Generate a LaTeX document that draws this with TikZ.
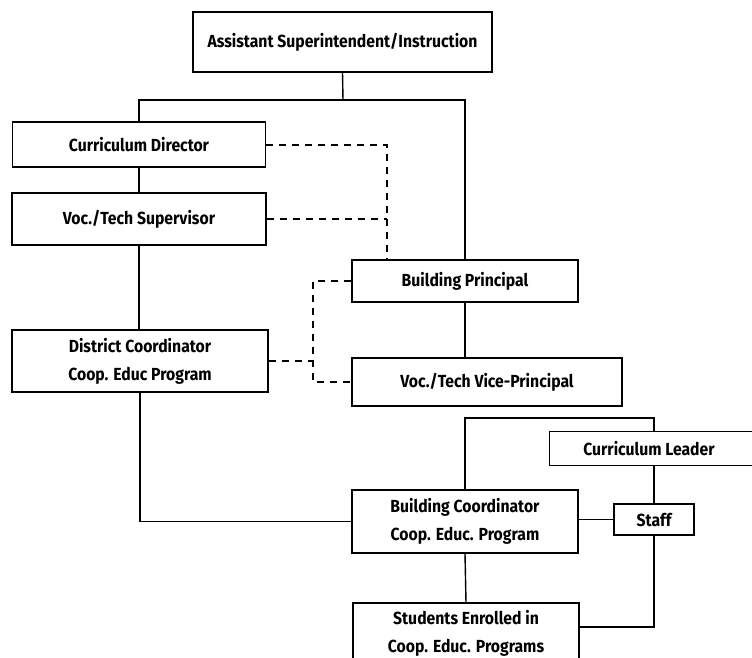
\documentclass[tikz,border=0pt]{standalone}
\usepackage{fontspec}
\newfontfamily\boxfont[FakeStretch=0.9]{Fira Sans}
\begin{document}
\begin{tikzpicture}[x=1pt,y=-1pt,
  box/.style={draw, line width=1.4pt, rectangle, inner sep=0pt, align=center,
    font=\boxfont\bfseries\fontsize{17.5}{28}\selectfont},
  conn/.style={line width=1.4pt},
  dashconn/.style={line width=1.4pt, dash pattern=on 7pt off 6pt}]
\useasboundingbox (0,0) rectangle (752,657);
% boxes
\node[box, minimum width=299pt, minimum height=60pt] (asi) at (342.5,42) {Assistant Superintendent/Instruction};
\node[box, minimum width=253pt, minimum height=45pt] (cd) at (139,144.5) {Curriculum Director};
\node[box, minimum width=254pt, minimum height=52pt] (vts) at (139,219) {Voc./Tech Supervisor};
\node[box, minimum width=256pt, minimum height=62pt] (dc) at (140,361) {District Coordinator\\Coop. Educ Program};
\node[box, minimum width=226pt, minimum height=42pt] (bp) at (465,281) {Building Principal};
\node[box, minimum width=270pt, minimum height=48pt] (vtvp) at (487,382) {Voc./Tech Vice-Principal};
\node[box, draw=none, minimum width=198pt, minimum height=33pt] (cl) at (649,448.5) {Curriculum Leader};
\draw[conn] ([xshift=20pt]cl.north east) -- (cl.north west) -- (cl.south west) -- ([xshift=20pt]cl.south east);
\node[box, minimum width=80pt, minimum height=31pt] (staff) at (654,519.5) {Staff};
\node[box, minimum width=226pt, minimum height=63pt] (bc) at (465,521.5) {Building Coordinator\\Coop. Educ. Program};
\node[box, minimum width=226pt, minimum height=60pt] (st) at (466,633) {Students Enrolled in\\Coop. Educ. Programs};
% junction coordinates
\coordinate (j1) at (343,100);
\coordinate (d1) at (387,145);
\coordinate (d2) at (313,282);
\coordinate (c2) at (654,418);
% solid connectors
\draw[conn] (asi.south) -- (j1);
\draw[conn] (cd.north) |- (j1) -| (bp.north);
\draw[conn] (cd.south) -- (cd.south |- vts.north);
\draw[conn] (vts.south) -- (vts.south |- dc.north);
\draw[conn] (bp.south) -- (bp.south |- vtvp.north);
\draw[conn] (dc.south) |- (bc.west);
\draw[conn] (bc.north) |- (c2) -- (c2 |- cl.north);
\draw[conn] (staff.north |- cl.south) -- (staff.north);
\draw[conn] (bc.east |- staff.west) -- (staff.west);
\draw[conn] (bc.south) -- (st.north);
\draw[conn] (staff.south) |- ([yshift=6pt]st.east);
% dashed connectors
\draw[dashconn] (cd.east |- d1) -- (d1) -- (d1 |- bp.north);
\draw[dashconn] (vts.east) -- (vts.east -| d1);
\draw[dashconn] (bp.west) -- (bp.west -| d2) -- (vtvp.west -| d2) -- (vtvp.west);
\draw[dashconn] (dc.east) -- (dc.east -| d2);
\end{tikzpicture}
\end{document}
